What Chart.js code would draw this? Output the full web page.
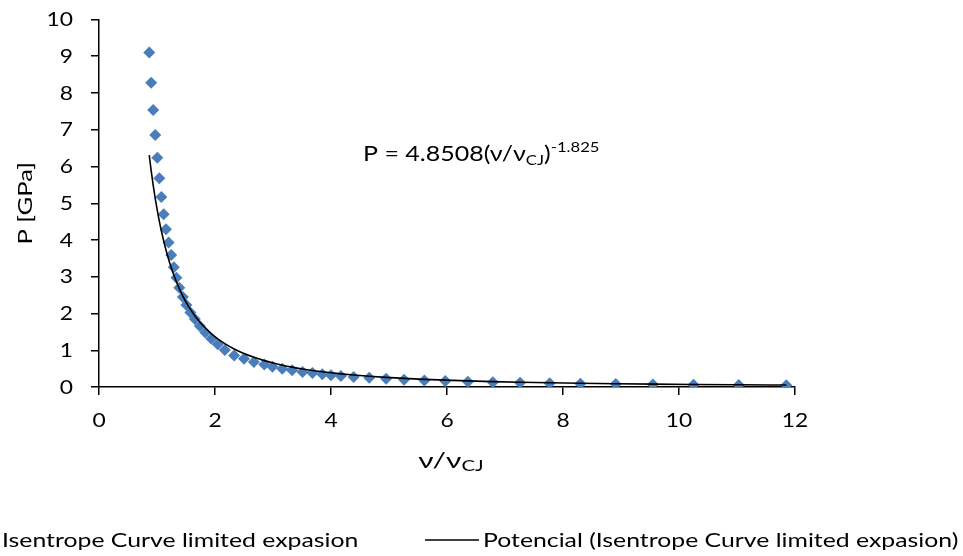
<!DOCTYPE html>
<html>
<head>
<meta charset="utf-8">
<script src="https://cdn.jsdelivr.net/npm/chart.js@4/dist/chart.umd.min.js"></script>
<style>
  html, body { margin: 0; padding: 0; background: #fff; }
  #wrap { width: 963px; height: 556px; position: relative; }
</style>
</head>
<body>
<div id="wrap"><canvas id="chart" width="963" height="556"></canvas></div>
<script>
// values
const vRatio = [0.866, 0.900, 0.934, 0.970, 1.005, 1.040, 1.075, 1.115, 1.155, 1.200,
  1.245, 1.290, 1.335, 1.385, 1.446, 1.506, 1.575, 1.652, 1.738, 1.833,
  1.936, 2.048, 2.169, 2.33, 2.50, 2.67, 2.85, 2.99, 3.16, 3.33,
  3.51, 3.68, 3.85, 4.00, 4.17, 4.39, 4.66, 4.95, 5.26, 5.61,
  5.97, 6.36, 6.79, 7.26, 7.77, 8.30, 8.91, 9.55, 10.25, 11.03, 11.85];
const pressure = [9.10, 8.28, 7.54, 6.86, 6.24, 5.68, 5.17, 4.70, 4.29, 3.93,
  3.59, 3.26, 2.97, 2.70, 2.45, 2.23, 2.03, 1.85, 1.66, 1.48,
  1.31, 1.16, 1.01, 0.86, 0.77, 0.68, 0.61, 0.55, 0.50, 0.455,
  0.41, 0.38, 0.35, 0.32, 0.30, 0.275, 0.25, 0.225, 0.20, 0.18,
  0.16, 0.145, 0.13, 0.115, 0.10, 0.09, 0.08, 0.07, 0.062, 0.055, 0.048];

// power trendline as printed on the chart
const trendA = 4.8508;
const trendB = -1.825;

const seriesName = "Isentrope Curve limited expasion";
const trendName = "Potencial (Isentrope Curve limited expasion)";

const FONT = "Lato, 'Open Sans', sans-serif";
const BLUE = "#4A7EBB";
const SX = 1.2;   // the reference text is wide (Calibri-like, stretched)

const points = vRatio.map((x, i) => ({ x, y: pressure[i] }));
const trend = vRatio.map(x => ({ x, y: trendA * Math.pow(x, trendB) }));

// text pieces with sub/superscripts, drawn left to right, stretched by sx
function runsWidth(ctx, runs) {
  return runs.reduce((w, r) => {
    ctx.font = `${r.size}px ${FONT}`;
    return w + ctx.measureText(r.t).width;
  }, 0);
}
function drawRuns(ctx, x, y, runs, sx, align = "left") {
  const w = runsWidth(ctx, runs) * sx;
  let start = x;
  if (align === "center") start = x - w / 2;
  if (align === "right") start = x - w;
  ctx.save();
  ctx.translate(start, y);
  ctx.scale(sx, 1);
  ctx.textAlign = "left";
  let cx = 0;
  runs.forEach(r => {
    ctx.font = `${r.size}px ${FONT}`;
    ctx.fillText(r.t, cx, r.dy || 0);
    cx += ctx.measureText(r.t).width;
  });
  ctx.restore();
}

const textPlugin = {
  id: "texts",
  afterDraw(chart) {
    const ctx = chart.ctx;
    const a = chart.chartArea;
    const xs = chart.scales.x, ys = chart.scales.y;
    ctx.save();
    ctx.fillStyle = "#000";
    ctx.textBaseline = "alphabetic";

    // tick labels
    xs.ticks.forEach(t => {
      drawRuns(ctx, xs.getPixelForValue(t.value), 427, [{ t: String(t.value), size: 19 }], SX, "center");
    });
    ys.ticks.forEach(t => {
      drawRuns(ctx, 73, ys.getPixelForValue(t.value) + 6.5, [{ t: String(t.value), size: 19 }], SX, "right");
    });

    // y axis title
    ctx.save();
    ctx.translate(32, (a.top + a.bottom) / 2);
    ctx.rotate(-Math.PI / 2);
    drawRuns(ctx, 0, 0, [{ t: "P [GPa]", size: 19 }], 1.35, "center");
    ctx.restore();

    // x axis title
    drawRuns(ctx, (a.left + a.right) / 2 + 4, 468, [
      { t: "ν/ν", size: 22 },
      { t: "CJ", size: 15, dy: 3 }
    ], 1.36, "center");

    // trendline equation
    drawRuns(ctx, 363, 161, [
      { t: "P = 4.8508(ν/ν", size: 21 },
      { t: "CJ", size: 14, dy: 4 },
      { t: ")", size: 21 },
      { t: "-1.825", size: 14, dy: -9 }
    ], 1.19);

    // legend (the first marker sits outside the picture)
    drawRuns(ctx, 2, 547, [{ t: seriesName, size: 19 }], 1.305);
    ctx.strokeStyle = "#000";
    ctx.lineWidth = 1.5;
    ctx.beginPath();
    ctx.moveTo(425, 540);
    ctx.lineTo(479, 540);
    ctx.stroke();
    drawRuns(ctx, 483, 547, [{ t: trendName, size: 19 }], 1.305);
    ctx.restore();
  }
};

new Chart(document.getElementById("chart"), {
  type: "scatter",
  data: {
    datasets: [
      {
        label: trendName,
        type: "line",
        data: trend,
        borderColor: "#000",
        borderWidth: 1.6,
        pointRadius: 0,
        fill: false,
        cubicInterpolationMode: "monotone"
      },
      {
        label: seriesName,
        data: points,
        pointStyle: "rectRot",
        pointRadius: 6,
        backgroundColor: BLUE,
        borderColor: BLUE,
        borderWidth: 0
      }
    ]
  },
  options: {
    responsive: false,
    animation: false,
    layout: { padding: { left: 0, right: 168, top: 19.5, bottom: 0 } },
    plugins: {
      legend: { display: false },
      tooltip: { enabled: false }
    },
    scales: {
      x: {
        type: "linear",
        min: 0, max: 12,
        ticks: { stepSize: 2, display: false },
        grid: { drawOnChartArea: false, drawTicks: true, tickLength: 8, color: "#000", lineWidth: 1.5 },
        border: { color: "#000", width: 1.5 },
        afterFit(scale) { scale.height = 169; }
      },
      y: {
        min: 0, max: 10,
        ticks: { stepSize: 1, display: false },
        grid: { drawOnChartArea: false, drawTicks: true, tickLength: 8, color: "#000", lineWidth: 1.5 },
        border: { color: "#000", width: 1.5 },
        afterFit(scale) { scale.width = 99; }
      }
    }
  },
  plugins: [textPlugin]
});
</script>
</body>
</html>
